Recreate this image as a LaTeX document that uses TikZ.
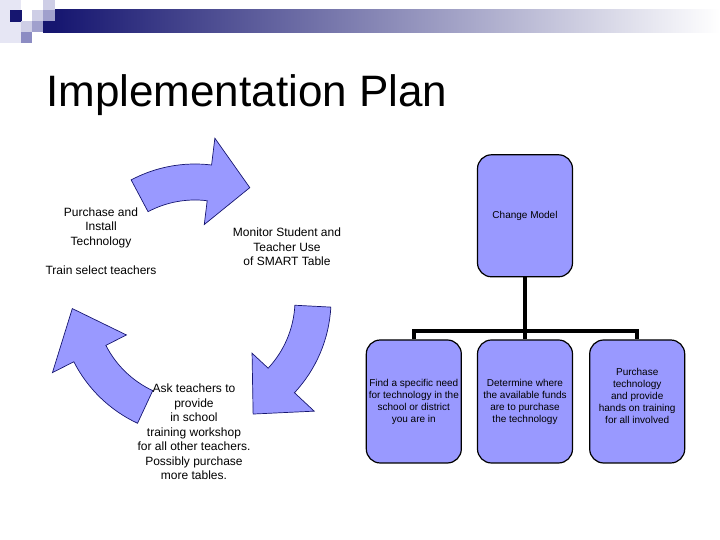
\documentclass[tikz,border=0pt]{standalone}
\usepackage{fontspec}
\setmainfont{Liberation Sans}
\usepackage{xcolor}
\usepackage{tikz}
\usetikzlibrary{positioning}

\definecolor{arrowblue}{RGB}{153,153,255}
\definecolor{slidenavy}{RGB}{22,22,112}
\definecolor{bandmid}{RGB}{172,172,200}
\definecolor{palelav}{RGB}{230,230,244}
\definecolor{lightlav}{RGB}{206,206,230}
\definecolor{midlav}{RGB}{160,160,205}
\definecolor{deeplav}{RGB}{140,140,195}

\begin{document}
\begin{tikzpicture}[
x=1pt,y=1pt,
every node/.style={font=\fontsize{12}{14.5}\selectfont,align=center},
cyclearrow/.style={fill=arrowblue,draw=slidenavy,line width=0.7pt},
orgbox/.style={rectangle,rounded corners=14pt,draw,line width=1.2pt,fill=arrowblue,
  minimum width=95pt,minimum height=123pt,inner sep=2pt,font=\fontsize{10}{12}\selectfont},
orgline/.style={line width=3.5pt}
]
\useasboundingbox (0,0) rectangle (720,540);

% Header band
\fill[palelav] (0,497) rectangle (21,540);
\fill[slidenavy] (10,518) rectangle (22,530);
\fill[lightlav] (43,530) rectangle (55,540);
\fill[lightlav] (32,519) rectangle (43,530);
\fill[midlav] (43,519) rectangle (55,530);
\fill[lightlav] (21,508) rectangle (32,519);
\fill[midlav] (32,508) rectangle (43,519);
\fill[deeplav] (21,497) rectangle (32,508);
\fill[slidenavy] (43,507) rectangle (55,519);
\shade[left color=slidenavy,middle color=bandmid,right color=white] (55,507) rectangle (720,530);

% Title
\node[anchor=base west,inner sep=0pt,font=\fontsize{44}{50}\selectfont] (title) at (46,433) {Implementation Plan};

% Cycle
\begin{scope}[shift={(195,240)}]
\draw[cyclearrow] (118:136pt) arc[start angle=118,end angle=83,radius=136pt]
  -- (83:163pt) -- (64:125pt) -- (83:76pt) -- (83:100pt)
  arc[start angle=83,end angle=118,radius=100pt] -- cycle;
\draw[cyclearrow] (-3:136pt) arc[start angle=-3,end angle=-43,radius=136pt]
  -- (-43:163pt) -- (-63:128pt) -- (-43:78pt) -- (-43:100pt)
  arc[start angle=-43,end angle=-3,radius=100pt] -- cycle;
\draw[cyclearrow] (245:136pt) arc[start angle=245,end angle=207,radius=136pt]
  -- (207:160pt) -- (184:123pt) -- (207:77pt) -- (207:100pt)
  arc[start angle=207,end angle=245,radius=100pt] -- cycle;
\end{scope}

\node (purchase) at (101,299) {Purchase and\\Install\\Technology\\[14.5pt]Train select teachers};
\node (monitor) at (287,293) {Monitor Student and\\Teacher Use\\of SMART Table};
\node (ask) at (194,108) {Ask teachers to\\provide\\in school\\training workshop\\for all other teachers.\\Possibly purchase\\more tables.};

% Org chart
\node[orgbox] (funds) at (525,138.5) {Determine where\\the available funds\\are to purchase\\the technology};
\node[orgbox,left=15pt of funds] (need) {Find a specific need\\for technology in the\\school or district\\you are in};
\node[orgbox,right=16pt of funds] (buy) {Purchase\\technology\\and provide\\hands on training\\for all involved\\\mbox{}};
\node[orgbox,above=62pt of funds,minimum height=122pt] (change) {Change Model};

\coordinate (bar) at (525,209);
\draw[orgline] (change.south) -- (funds.north);
\draw[orgline] (need.north) |- (bar) -| (buy.north);

\end{tikzpicture}
\end{document}
